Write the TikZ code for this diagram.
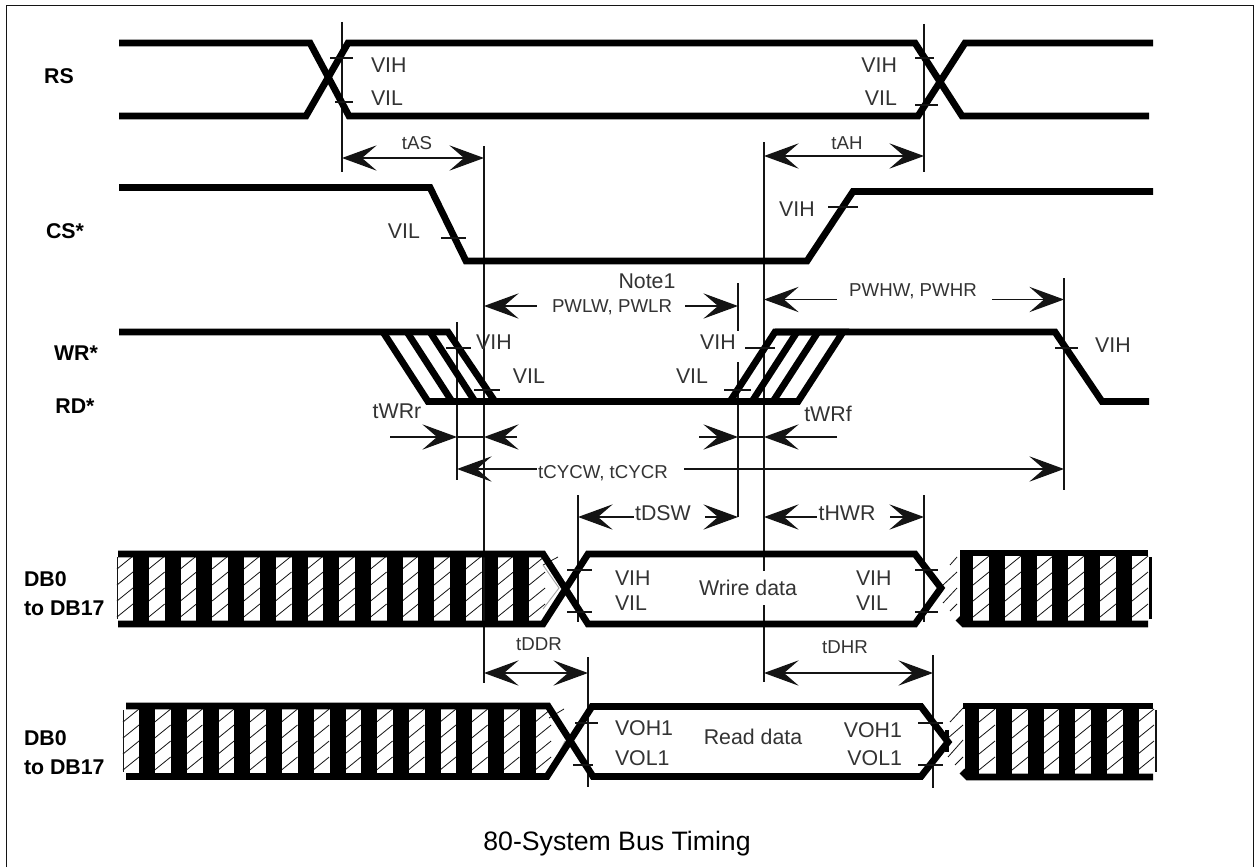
\documentclass[tikz,border=0pt]{standalone}
\usepackage{fontspec}
\setmainfont{Liberation Sans}
\usetikzlibrary{arrows.meta}
\definecolor{ink}{gray}{0.08}
\definecolor{txt}{gray}{0.2}
\tikzset{
  px/.style={x=0.75pt,y=-0.75pt},
  sig/.style={line width=5.1pt,line join=miter,line cap=butt,draw=black},
  thin line/.style={line width=1.15pt,draw=ink},
  hatchln/.style={line width=0.6pt,draw=ink},
  dimtip/.tip={Stealth[length=26pt,width=19pt,inset=11pt]},
  dim/.style={line width=0.9pt,draw=ink},
  lab/.style={font=\fontsize{16}{16}\selectfont,text=txt,inner sep=0pt,outer sep=0pt},
  labsm/.style={font=\fontsize{14}{14}\selectfont,text=txt,inner sep=0pt,outer sep=0pt},
  sigl/.style={font=\fontsize{16}{16}\selectfont\bfseries,text=black,inner sep=0pt,outer sep=0pt},
}
\newcommand{\whitehatch}[3]{% x0, ytop, ybot : one 16px wide hatched band
  \foreach \k in {0,1,2,3}{
    \draw[hatchln] ({#1},{#2+16*\k+12}) -- ({#1+16},{#2+16*\k-1});
  }
}
\newcommand{\blackbars}[4]{% first x, count-1, ytop, ybot
  \foreach \i in {0,...,#2}{
    \fill[black] ({#1+31.7*\i},{#3}) rectangle ({#1+31.7*\i+16},{#4});
  }
}
\begin{document}
\begin{tikzpicture}[px]
\useasboundingbox (0,0) rectangle (1255,867);
\fill[white] (0,0) rectangle (1255,867);
% frame
\draw[line width=1.4pt,draw=ink] (6.5,867) -- (6.5,5.5) -- (1253.5,5.5) -- (1253.5,867);

% ---------- hatched buses (drawn first) ----------
% write bus, left
\foreach \i in {0,...,13}{ \whitehatch{117+31.7*\i}{557}{619} }
\blackbars{133}{12}{554}{624}
\draw[thin line,line width=0.6pt] (117,557) -- (117,619);
\draw[hatchln] (543,565) -- (558,557);
\draw[draw=gray!70,line width=0.7pt] (543,565) -- (559,588) -- (543,609);
% write bus, right
\draw[hatchln] (957,557) -- (950,565) (957,572) -- (943,585) (957,588) -- (943,603) (957,604) -- (950,611);
\foreach \x in {973,1005,1037,1068,1100,1132}{ \whitehatch{\x}{557}{619} }
\fill[black] (960,554) rectangle (973,624);
\blackbars{989}{4}{554}{624}
\draw[line width=2pt,draw=black] (1150.5,557) -- (1150.5,619);
% read bus, left
\foreach \i in {0,...,13}{ \whitehatch{123+31.7*\i}{710}{772} }
\blackbars{139.3}{12}{706}{777}
\draw[hatchln] (123,710) -- (123,772);
\draw[hatchln] (549,718) -- (564,709);
\draw[draw=gray!70,line width=0.7pt] (550,770) -- (565,741);
% read bus, right
\draw[hatchln] (963,708) -- (950,722) (963,725) -- (948,738) (963,740) -- (948,757) (963,757) -- (955,765);
\foreach \x in {979,1012,1043,1075,1107,1138}{ \whitehatch{\x}{710}{772} }
\fill[black] (965,706) rectangle (979,777);
\blackbars{996}{4}{706}{777}
\draw[hatchln,line width=0.9pt] (1156,710) -- (1156,772);

% ---------- vertical reference lines ----------
\coordinate (a1) at (342,22);  \coordinate (a2) at (342,172);
\coordinate (b1) at (924,24);  \coordinate (b2) at (924,172);
\coordinate (c1) at (484,146); \coordinate (c2) at (484,683);
\coordinate (d1) at (764,142); \coordinate (d2) at (764,571);
\coordinate (d3) at (764,605); \coordinate (d4) at (764,682);
\coordinate (e1) at (738,283); \coordinate (e2) at (738,331);
\coordinate (e3) at (738,362); \coordinate (e4) at (738,517);
\coordinate (f1) at (1064,278);\coordinate (f2) at (1064,490);
\coordinate (g1) at (457,322); \coordinate (g2) at (457,480);
\coordinate (h1) at (578,495); \coordinate (h2) at (578,622);
\coordinate (i1) at (924,495); \coordinate (i2) at (924,622);
\coordinate (j1) at (588,657); \coordinate (j2) at (588,787);
\coordinate (k1) at (933,655); \coordinate (k2) at (933,788);
\draw[thin line] (a1)--(a2) (b1)--(b2) (c1)--(c2) (d1)--(d2) (d3)--(d4)
  (e1)--(e2) (e3)--(e4) (f1)--(f2) (g1)--(g2) (h1)--(h2) (i1)--(i2) (j1)--(j2) (k1)--(k2);

% ---------- signal traces ----------
\draw[sig] (119,43) -- (310,43) -- (349,116) -- (918,116) -- (965,43) -- (1153,43);
\draw[sig] (119,116) -- (306,116) -- (348,43) -- (915,43) -- (962,116) -- (1149,116);
\draw[sig] (119,187.5) -- (430,187.5) -- (466,261) -- (807,261) -- (853,191.5) -- (1153,191.5);
\draw[sig] (119,332) -- (448,332) -- (495,401.5) -- (730,401.5) -- (775,332) -- (1055,332) -- (1102,401.5) -- (1149,401.5);
\draw[sig] (383,332) -- (428,401.5) -- (495,401.5);
\draw[sig] (407,332) -- (452,401.5);
\draw[sig] (430,332) -- (475,401.5);
\draw[sig] (730,401.5) -- (798,401.5) -- (843,332) -- (775,332);
\draw[sig] (752,401.5) -- (797,332);
\draw[sig] (773,401.5) -- (818,332);
% write data
\draw[sig] (118,554) -- (543,554) -- (588,624) -- (915,624) -- (941,588) -- (915,554) -- (588,554) -- (543,624) -- (118,624);
\draw[sig] (1148,553) -- (960,553);
\draw[sig] (1148,624) -- (964,624) -- (958,618);
% read data
\draw[sig] (126,706) -- (548,706) -- (593,776.5) -- (921,776.5) -- (948,742) -- (921,706.5) -- (592,706.5) -- (547,776.5) -- (126,776.5);
\draw[sig] (1153,706) -- (963,706);
\draw[sig] (1153,777) -- (968,777) -- (962,771);
\fill[black] (945,730) rectangle (949,752);

% ---------- threshold ticks ----------
\draw[thin line]
  (330,58)--(353,58) (335,102)--(353,102)
  (915,58)--(934,58) (915,105)--(938,105)
  (441,238)--(466,238) (828,207)--(858,207)
  (446,348)--(471,348) (474,390)--(500,390)
  (745,348)--(775,348) (724,390)--(751,390)
  (1055,348)--(1078,348)
  (567,570)--(592,570) (567,612)--(592,612)
  (915,570)--(938,570) (915,612)--(938,612)
  (575,723)--(598,723) (573,765)--(593,765)
  (918,723)--(943,723) (918,765)--(943,765);

% ---------- dimension arrows ----------
\coordinate (tas1) at (342,158); \coordinate (tas2) at (484,158);
\draw[dim,{dimtip}-{dimtip}] (tas1) -- (tas2);
\coordinate (tah1) at (764,156); \coordinate (tah2) at (924,156);
\draw[dim,{dimtip}-{dimtip}] (tah1) -- (tah2);
\coordinate (pa) at (484,306); \coordinate (pb) at (537,306); \coordinate (pc) at (685,306); \coordinate (pd) at (738,306);
\draw[dim,{dimtip}-] (pa) -- (pb);
\draw[dim,-{dimtip}] (pc) -- (pd);
\coordinate (qa) at (764,299.5); \coordinate (qb) at (837,299.5); \coordinate (qc) at (992,299.5); \coordinate (qd) at (1064,299.5);
\draw[dim,{dimtip}-] (qa) -- (qb);
\draw[dim,-{dimtip}] (qc) -- (qd);
\coordinate (w1) at (390,437); \coordinate (w2) at (457,437);
\coordinate (w3) at (517,437); \coordinate (w4) at (484,437);
\coordinate (w5) at (699,437); \coordinate (w6) at (738,437);
\coordinate (w7) at (837,437); \coordinate (w8) at (764,437);
\draw[dim,-{dimtip}] (w1) -- (w2);
\draw[dim,-{dimtip}] (w3) -- (w4);
\draw[dim,-{dimtip}] (w5) -- (w6);
\draw[dim,-{dimtip}] (w7) -- (w8);
\draw[dim] (w2) -- (w4) (w6) -- (w8);
\coordinate (cy1) at (457,469); \coordinate (cy2) at (537,469); \coordinate (cy3) at (684,469); \coordinate (cy4) at (1064,469);
\draw[dim,{dimtip}-] (cy1) -- (cy2);
\draw[dim,-{dimtip}] (cy3) -- (cy4);
\coordinate (ds1) at (578,517); \coordinate (ds2) at (634,517); \coordinate (ds3) at (705,517); \coordinate (ds4) at (738,517);
\draw[dim,{dimtip}-] (ds1) -- (ds2);
\draw[dim,-{dimtip}] (ds3) -- (ds4);
\coordinate (hw1) at (764,517); \coordinate (hw2) at (817,517); \coordinate (hw3) at (890,517); \coordinate (hw4) at (924,517);
\draw[dim,{dimtip}-] (hw1) -- (hw2);
\draw[dim,-{dimtip}] (hw3) -- (hw4);
\coordinate (dd1) at (484,673); \coordinate (dd2) at (588,673);
\draw[dim,{dimtip}-{dimtip}] (dd1) -- (dd2);
\coordinate (dh1) at (764,673); \coordinate (dh2) at (933,673);
\draw[dim,{dimtip}-{dimtip}] (dh1) -- (dh2);

% ---------- labels ----------
\node[sigl] (rs) at (59,76) {RS};
\node[sigl] (cs) at (65,231) {CS*};
\node[sigl] (wr) at (76,353) {WR*};
\node[sigl] (rd) at (75,406) {RD*};
\node[sigl,anchor=west] (db1a) at (24,579) {DB0};
\node[sigl,anchor=west] (db1b) at (24,608) {to DB17};
\node[sigl,anchor=west] (db2a) at (24,738) {DB0};
\node[sigl,anchor=west] (db2b) at (24,767) {to DB17};

\node[lab,anchor=west] (l1) at (371,65) {VIH};
\node[lab,anchor=west] (l2) at (371,98) {VIL};
\node[lab,anchor=east] (l3) at (897,65) {VIH};
\node[lab,anchor=east] (l4) at (897,98) {VIL};
\node[labsm] (tas) at (417,143) {tAS};
\node[labsm] (tah) at (847,143) {tAH};
\node[lab] (l5) at (404,231) {VIL};
\node[lab] (l6) at (797,209) {VIH};
\node[lab] (note) at (647,281) {Note1};
\node[labsm] (pwl) at (612,307) {PWLW, PWLR};
\node[labsm] (pwh) at (913,291) {PWHW, PWHR};
\node[lab] (l7) at (494,342) {VIH};
\node[lab] (l8) at (529,376) {VIL};
\node[lab] (l9) at (718,342) {VIH};
\node[lab] (l10) at (692,376) {VIL};
\node[lab] (l11) at (1113,345) {VIH};
\node[lab] (twrr) at (397,411) {tWRr};
\node[lab] (twrf) at (828,414) {tWRf};
\node[labsm] (tcyc) at (603,473) {tCYCW, tCYCR};
\node[lab] (tdsw) at (663,513) {tDSW};
\node[lab] (thwr) at (847,513) {tHWR};
\node[lab,anchor=west] (l12) at (615,578) {VIH};
\node[lab,anchor=west] (l13) at (615,603) {VIL};
\node[lab,anchor=west] (l14) at (856,578) {VIH};
\node[lab,anchor=west] (l15) at (856,603) {VIL};
\node[lab] (wd) at (748,588) {Wrire data};
\node[labsm] (tddr) at (539,644) {tDDR};
\node[labsm] (tdhr) at (845,647) {tDHR};
\node[lab,anchor=west] (l16) at (615,728) {VOH1};
\node[lab,anchor=west] (l17) at (615,758) {VOL1};
\node[lab,anchor=east] (l18) at (902,730) {VOH1};
\node[lab,anchor=east] (l19) at (902,758) {VOL1};
\node[lab] (rdd) at (753,737) {Read data};
\node[font=\fontsize{20}{20}\selectfont,text=black,inner sep=0pt] (title) at (617,844) {80-System Bus Timing};
\end{tikzpicture}
\end{document}
